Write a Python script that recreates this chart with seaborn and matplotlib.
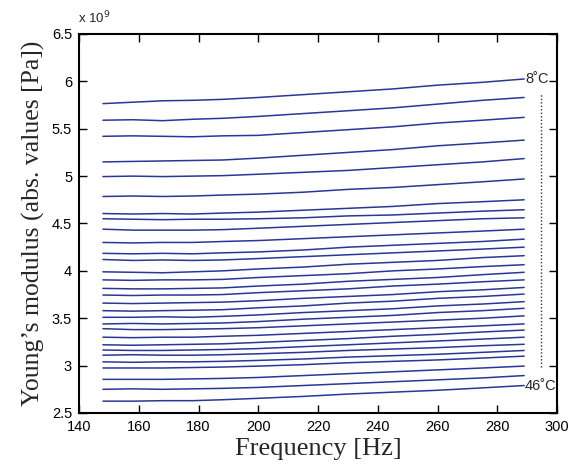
import numpy as np
import pandas as pd
import matplotlib
matplotlib.use("Agg")
import matplotlib.pyplot as plt
import seaborn as sns

freqs = [148, 158, 168, 178, 188, 200, 215, 230, 245, 260, 275, 289]

c01 = [5.765, 5.78, 5.795, 5.80, 5.81, 5.83, 5.86, 5.89, 5.92, 5.96, 5.99, 6.025]
c02 = [5.59, 5.595, 5.585, 5.60, 5.61, 5.63, 5.66, 5.69, 5.72, 5.76, 5.80, 5.83]
c03 = [5.42, 5.425, 5.42, 5.415, 5.425, 5.43, 5.46, 5.49, 5.52, 5.56, 5.59, 5.62]
c04 = [5.15, 5.155, 5.16, 5.165, 5.17, 5.19, 5.22, 5.25, 5.28, 5.32, 5.35, 5.38]
c05 = [4.995, 5.00, 4.995, 5.00, 5.005, 5.02, 5.04, 5.06, 5.09, 5.12, 5.15, 5.185]
c06 = [4.785, 4.79, 4.785, 4.79, 4.80, 4.81, 4.83, 4.86, 4.88, 4.91, 4.94, 4.97]
c07 = [4.605, 4.60, 4.605, 4.60, 4.61, 4.62, 4.64, 4.66, 4.68, 4.71, 4.73, 4.75]
c08 = [4.55, 4.545, 4.54, 4.545, 4.545, 4.55, 4.56, 4.58, 4.59, 4.61, 4.63, 4.645]
c09 = [4.44, 4.43, 4.43, 4.43, 4.435, 4.45, 4.47, 4.49, 4.51, 4.53, 4.55, 4.56]
c10 = [4.30, 4.295, 4.30, 4.30, 4.31, 4.32, 4.34, 4.36, 4.38, 4.40, 4.42, 4.44]
c11 = [4.185, 4.18, 4.185, 4.18, 4.19, 4.20, 4.22, 4.25, 4.27, 4.29, 4.31, 4.335]
c12 = [4.12, 4.11, 4.115, 4.11, 4.115, 4.13, 4.15, 4.17, 4.19, 4.21, 4.23, 4.25]
c13 = [3.99, 3.985, 3.98, 3.99, 4.00, 4.02, 4.04, 4.07, 4.09, 4.11, 4.14, 4.16]
c14 = [3.905, 3.90, 3.905, 3.905, 3.91, 3.93, 3.95, 3.97, 4.00, 4.02, 4.045, 4.065]
c15 = [3.815, 3.81, 3.81, 3.815, 3.82, 3.84, 3.86, 3.89, 3.91, 3.93, 3.96, 3.985]
c16 = [3.745, 3.74, 3.745, 3.745, 3.75, 3.77, 3.79, 3.81, 3.84, 3.86, 3.885, 3.905]
c17 = [3.66, 3.655, 3.66, 3.665, 3.67, 3.685, 3.71, 3.73, 3.75, 3.78, 3.80, 3.825]
c18 = [3.58, 3.575, 3.58, 3.585, 3.59, 3.61, 3.63, 3.66, 3.68, 3.71, 3.73, 3.755]
c19 = [3.51, 3.51, 3.515, 3.51, 3.52, 3.535, 3.56, 3.58, 3.60, 3.63, 3.65, 3.675]
c20 = [3.44, 3.445, 3.44, 3.445, 3.45, 3.465, 3.49, 3.51, 3.53, 3.56, 3.58, 3.605]
c21 = [3.39, 3.38, 3.38, 3.385, 3.39, 3.40, 3.42, 3.44, 3.46, 3.48, 3.50, 3.525]
c22 = [3.30, 3.295, 3.30, 3.30, 3.31, 3.32, 3.34, 3.36, 3.38, 3.40, 3.42, 3.44]
c23 = [3.22, 3.215, 3.22, 3.225, 3.23, 3.245, 3.265, 3.285, 3.31, 3.33, 3.355, 3.375]
c24 = [3.165, 3.16, 3.16, 3.165, 3.17, 3.18, 3.20, 3.22, 3.24, 3.26, 3.28, 3.30]
c25 = [3.11, 3.115, 3.11, 3.11, 3.115, 3.125, 3.14, 3.16, 3.175, 3.19, 3.21, 3.225]
c26 = [3.04, 3.035, 3.04, 3.04, 3.045, 3.055, 3.07, 3.09, 3.105, 3.12, 3.14, 3.16]
c27 = [2.975, 2.975, 2.975, 2.98, 2.985, 2.995, 3.01, 3.03, 3.045, 3.06, 3.08, 3.10]
c28 = [2.855, 2.855, 2.855, 2.86, 2.865, 2.875, 2.895, 2.915, 2.935, 2.955, 2.975, 2.995]
c29 = [2.75, 2.755, 2.75, 2.755, 2.76, 2.77, 2.79, 2.81, 2.83, 2.85, 2.87, 2.895]
c30 = [2.625, 2.625, 2.63, 2.63, 2.64, 2.655, 2.675, 2.70, 2.72, 2.74, 2.765, 2.79]

curves = [c01, c02, c03, c04, c05, c06, c07, c08, c09, c10,
          c11, c12, c13, c14, c15, c16, c17, c18, c19, c20,
          c21, c22, c23, c24, c25, c26, c27, c28, c29, c30]

x_ticks = [140, 160, 180, 200, 220, 240, 260, 280, 300]
y_ticks = [2.5, 3, 3.5, 4, 4.5, 5, 5.5, 6, 6.5]
y_tick_labels = ["2.5", "3", "3.5", "4", "4.5", "5", "5.5", "6", "6.5"]
label_top = "8˚C"
label_bottom = "46˚C"
range_x = [294.6, 294.6]
range_y = [2.99, 5.87]

rows = []
for i, c in enumerate(curves):
    for f, v in zip(freqs, c):
        rows.append({"freq": f, "E": v, "curve": i})
df = pd.DataFrame(rows)

sns.set_style("ticks", {"xtick.direction": "in", "ytick.direction": "in"})
plt.rcParams["font.family"] = ["Liberation Sans", "DejaVu Sans"]
plt.rcParams["xtick.major.size"] = 6
plt.rcParams["ytick.major.size"] = 6
plt.rcParams["xtick.major.width"] = 1.0
plt.rcParams["ytick.major.width"] = 1.0
plt.rcParams["xtick.top"] = True
plt.rcParams["ytick.right"] = True

fig = plt.figure(figsize=(5.71, 4.72), dpi=100)
ax = fig.add_axes([0.1384, 0.125, 0.9755 - 0.1384, 0.928 - 0.125])

line_color = "#2a3796"
sns.lineplot(data=df, x="freq", y="E", hue="curve",
             palette=[line_color] * len(curves), legend=False,
             linewidth=1.1, ax=ax, estimator=None)

ax.plot(range_x, range_y, linestyle=(0, (1, 1.5)), color="#333333", linewidth=1.0)

ax.text(289.5, curves[0][-1], label_top, fontsize=10.5, ha="left", va="center")
ax.text(289.0, curves[-1][-1] - 0.01, label_bottom, fontsize=10.5, ha="left", va="center")

ax.set_xlim(140, 300)
ax.set_ylim(2.5, 6.5)
ax.set_xticks(x_ticks)
ax.set_xticklabels([str(t) for t in x_ticks])
ax.set_yticks(y_ticks)
ax.set_yticklabels(y_tick_labels)
ax.tick_params(which="major", direction="in", length=6, width=1, top=True, right=True,
               bottom=True, left=True, labelsize=10.5, colors="black", pad=5)
for s in ax.spines.values():
    s.set_visible(True)
    s.set_color("black")
    s.set_linewidth(1.5)

ax.set_xlabel("Frequency [Hz]", fontsize=19, family=["Liberation Serif"], labelpad=3)
ax.set_ylabel("Young’s modulus (abs. values [Pa])", fontsize=18.5,
              family=["Liberation Serif"], labelpad=5)

fig.text(0.137, 0.945, "x 10$^9$", fontsize=9.5, ha="left", va="bottom")

fig.savefig("out.png", dpi=100)
